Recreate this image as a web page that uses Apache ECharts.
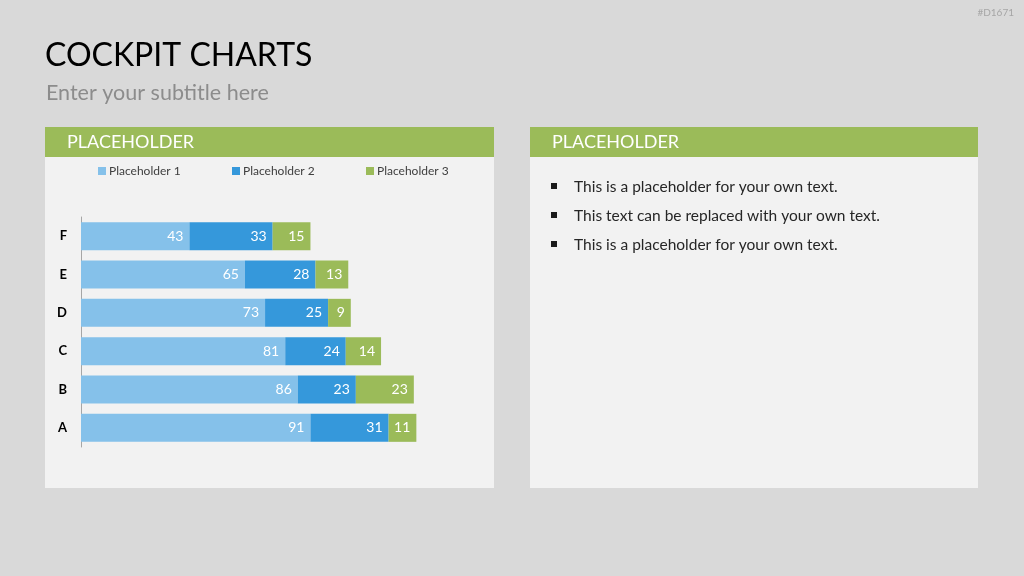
<!DOCTYPE html>
<html>
<head>
<meta charset="utf-8">
<script src="https://cdn.jsdelivr.net/npm/echarts@6/dist/echarts.min.js"></script>
<style>
  html, body { margin: 0; padding: 0; background: #d9d9d9; }
  #main { width: 1024px; height: 576px; }
</style>
</head>
<body>
<div id="main"></div>
<script>
const categories = ['A', 'B', 'C', 'D', 'E', 'F']
const seriesNames = ['Placeholder 1', 'Placeholder 2', 'Placeholder 3']
const values1 = [91, 86, 81, 73, 65, 43]
const values2 = [31, 23, 24, 25, 28, 33]
const values3 = [11, 23, 14, 9, 13, 15]
const colors = ['#85c1ea', '#3598db', '#9bbb59']
const bullets = [
  'This is a placeholder for your own text.',
  'This text can be replaced with your own text.',
  'This is a placeholder for your own text.'
]

const font = 'Lato, "Open Sans", sans-serif'
const chart = echarts.init(document.getElementById('main'))

const bulletGraphics = []
bullets.forEach((t, i) => {
  const y = 187 + i * 29
  bulletGraphics.push({
    type: 'rect', shape: { x: 551, y: y - 4, width: 6, height: 6 },
    style: { fill: '#1a1a1a' }
  })
  bulletGraphics.push({
    type: 'text', x: 574, y: y,
    style: { text: t, fill: '#262626', font: '15.5px ' + font, verticalAlign: 'middle' }
  })
})

function bar(name, data, color) {
  return {
    name: name,
    type: 'bar',
    stack: 'total',
    data: data,
    barWidth: 28,
    itemStyle: { color: color },
    label: {
      show: true,
      position: 'insideRight',
      distance: 6,
      color: '#fff',
      fontSize: 14,
      fontFamily: font
    }
  }
}

chart.setOption({
  backgroundColor: '#d9d9d9',
  animation: false,
  graphic: [
    { type: 'text', x: 1014, y: 13, style: { text: '#D1671', fill: '#a6a6a6', font: '10px ' + font, align: 'right', verticalAlign: 'middle' } },
    { type: 'text', x: 45, y: 56, style: { text: 'COCKPIT CHARTS', fill: '#000', font: '32px ' + font, verticalAlign: 'middle' } },
    { type: 'text', x: 46, y: 93, style: { text: 'Enter your subtitle here', fill: '#8c8c8c', font: '21.5px ' + font, verticalAlign: 'middle' } },
    { type: 'rect', z: -10, shape: { x: 45, y: 127, width: 449, height: 361 }, style: { fill: '#f2f2f2' } },
    { type: 'rect', z: -10, shape: { x: 45, y: 127, width: 449, height: 30 }, style: { fill: '#9bbb59' } },
    { type: 'text', x: 67, y: 142, style: { text: 'PLACEHOLDER', fill: '#fff', font: '18px ' + font, verticalAlign: 'middle' } },
    { type: 'rect', z: -10, shape: { x: 530, y: 127, width: 448, height: 361 }, style: { fill: '#f2f2f2' } },
    { type: 'rect', z: -10, shape: { x: 530, y: 127, width: 448, height: 30 }, style: { fill: '#9bbb59' } },
    { type: 'text', x: 552, y: 142, style: { text: 'PLACEHOLDER', fill: '#fff', font: '18px ' + font, verticalAlign: 'middle' } }
  ].concat(bulletGraphics),
  legend: seriesNames.map((n, i) => ({
    data: [n],
    left: 93 + i * 134,
    top: 160,
    itemWidth: 8,
    itemHeight: 8,
    itemGap: 0,
    icon: 'rect',
    textStyle: { color: '#404040', fontSize: 12, fontFamily: font, padding: [0, 0, 0, -2] }
  })),
  grid: { left: 81, top: 217, width: 353, height: 230 },
  xAxis: {
    type: 'value',
    min: 0,
    max: 140,
    show: false
  },
  yAxis: {
    type: 'category',
    data: categories,
    axisLine: { show: true, lineStyle: { color: '#a6a6a6', width: 1 } },
    axisTick: { show: false },
    axisLabel: { color: '#000', fontWeight: 'bold', fontSize: 13, fontFamily: font, margin: 14 }
  },
  series: [
    bar(seriesNames[0], values1, colors[0]),
    bar(seriesNames[1], values2, colors[1]),
    bar(seriesNames[2], values3, colors[2])
  ]
})
</script>
</body>
</html>
